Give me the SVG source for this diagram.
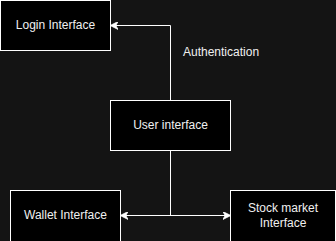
<svg xmlns="http://www.w3.org/2000/svg" width="336" height="241" viewBox="0 0 336 241">
  <style>
    .box { fill: #000000; stroke: #ffffff; stroke-width: 1; }
    .lbl { font-family: "Liberation Sans", Arial, sans-serif; font-size: 12px; fill: #f0f0f0; text-anchor: middle; dominant-baseline: central; }
    .edge { fill: none; stroke: #ffffff; stroke-width: 1; }
  </style>
  <defs>
    <marker id="arrow" viewBox="0 0 10 10" refX="9" refY="5" markerWidth="8" markerHeight="8" markerUnits="userSpaceOnUse" orient="auto-start-reverse">
      <path d="M0,0 L10,5 L0,10 L3,5 Z" fill="#ffffff" stroke="#ffffff" stroke-width="1"/>
    </marker>
  </defs>
  <rect width="336" height="241" fill="#141414"/>

  <g id="connectors">
    <path class="edge" d="M170.5,100.5 V25.5 H111" marker-end="url(#arrow)"/>
    <path class="edge" d="M121,215.5 H230" marker-start="url(#arrow)" marker-end="url(#arrow)"/>
    <path class="edge" d="M170.5,150.5 V215.5"/>
    <text class="lbl" x="183" y="52" style="text-anchor:start">Authentication</text>
  </g>

  <g id="login">
    <rect class="box" x="0.5" y="0.5" width="110" height="50"/>
    <text class="lbl" x="55.5" y="25">Login Interface</text>
  </g>

  <g id="user">
    <rect class="box" x="110.5" y="100.5" width="120" height="50"/>
    <text class="lbl" x="170.5" y="124.5">User interface</text>
  </g>

  <g id="wallet">
    <rect class="box" x="10.5" y="190.5" width="110" height="60"/>
    <text class="lbl" x="65.5" y="214.5">Wallet Interface</text>
  </g>

  <g id="stock">
    <rect class="box" x="230.5" y="190.5" width="105" height="60"/>
    <text class="lbl" x="283" y="207.5">Stock market</text>
    <text class="lbl" x="283" y="222.5">Interface</text>
  </g>
</svg>
